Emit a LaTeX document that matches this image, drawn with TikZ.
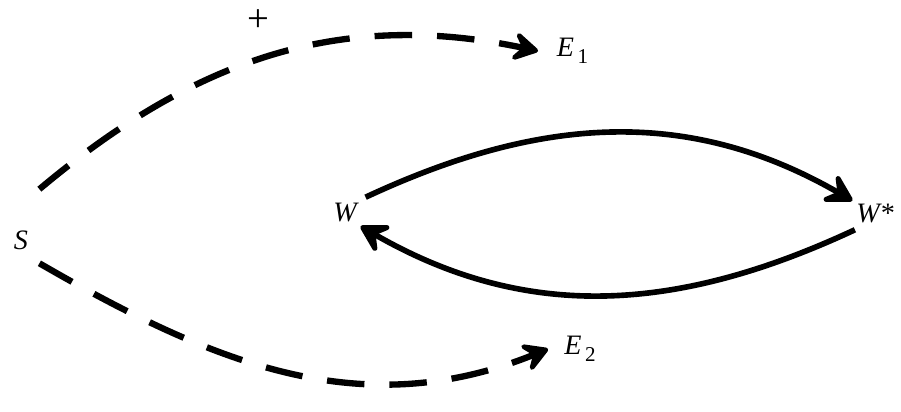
\documentclass[tikz,border=0pt]{standalone}
\usepackage{fontspec}
\setmainfont{Liberation Serif}
\usepackage{tikz}
\usetikzlibrary{arrows.meta}

\begin{document}
\begin{tikzpicture}[font=\fontsize{16}{18}\selectfont\itshape,
  lbl/.style={inner sep=2pt},
  flow/.style={line width=3.2pt,-{Stealth[length=7mm,width=8mm,inset=3mm,round]}},
  effect/.style={line width=3.6pt,dash pattern=on 0.75cm off 0.5cm,
    -{Stealth[length=6.5mm,width=7.5mm,inset=2.8mm,round]}}]
\useasboundingbox (0,0) rectangle (18.02,8.24);
% --- nodes ---
\node[lbl] (S) at (0.42,3.44) {S};
\node[lbl] (W) at (6.9,3.98) {W};
\node[lbl] (Ws) at (17.5,3.96) {W*};
\node[lbl] (E1) at (11.45,7.22) {E\raisebox{-0.5ex}{\upshape\fontsize{12}{14}\selectfont\,1}};
\node[lbl] (E2) at (11.6,1.26) {E\raisebox{-0.5ex}{\upshape\fontsize{12}{14}\selectfont\,2}};
\node[lbl,font=\fontsize{22}{24}\selectfont\upshape] (plus) at (5.16,7.82) {+};
% --- dashed effects from S ---
\draw[effect] (S.north east) ++(0.15,0.75) to[out=40,in=168] ([xshift=-0.3cm]E1.west);
\draw[effect] (S.south east) ++(0.15,-0.2) to[out=-30,in=202] ([xshift=-0.25cm]E2.west);
% --- W <-> W* ---
\draw[flow] (W.north east) ++(0.1,0.05) to[out=25,in=150] (Ws.north west);
\draw[flow] (Ws.south west) ++(0.05,-0.05) to[out=205,in=-30] (W.south east);
\end{tikzpicture}
\end{document}
